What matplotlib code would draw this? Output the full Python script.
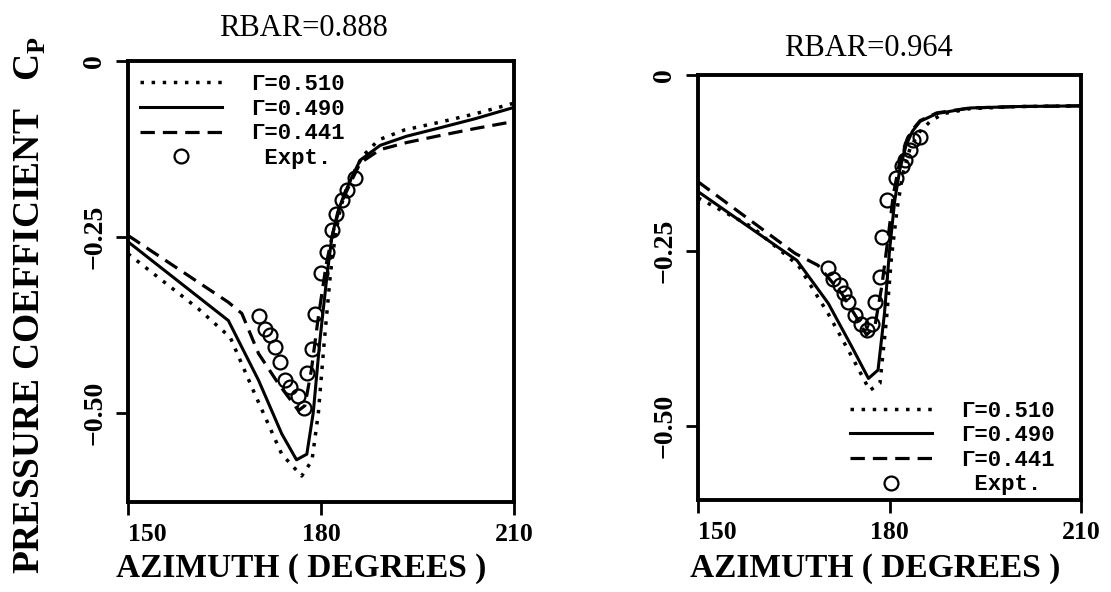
import matplotlib
matplotlib.use("Agg")
import matplotlib.pyplot as plt

OUTPUT_FILE = "out.png"

# left panel, RBAR=0.888
L_DOT_AZ = [150, 160.9, 165.9, 169.7, 173.9, 177.0, 178.6, 179.6, 180.5, 181.5,
            182.2, 183.0, 184.0, 185.3, 186.5, 189, 193, 198.5, 204, 210]
L_DOT_CP = [-0.274, -0.352, -0.393, -0.473, -0.559, -0.590, -0.568, -0.500,
            -0.400, -0.300, -0.250, -0.210, -0.180, -0.155, -0.135, -0.112,
            -0.098, -0.087, -0.075, -0.060]
L_SOL_AZ = [150, 165.6, 170.3, 173.9, 176.2, 177.8, 178.8, 179.8, 181.0, 181.7,
            182.6, 183.6, 184.8, 186.1, 189.2, 193.3, 198.5, 204, 210]
L_SOL_CP = [-0.257, -0.369, -0.454, -0.530, -0.567, -0.559, -0.500, -0.400,
            -0.300, -0.250, -0.215, -0.190, -0.165, -0.141, -0.120, -0.107,
            -0.095, -0.082, -0.066]
L_DSH_AZ = [150, 165.6, 167.7, 170.3, 173.4, 176.5, 177.5, 178.5, 179.5, 180.8,
            181.7, 183, 184.5, 186.1, 189.2, 193.3, 198.5, 204, 210]
L_DSH_CP = [-0.248, -0.343, -0.359, -0.416, -0.459, -0.497, -0.490, -0.440,
            -0.370, -0.290, -0.250, -0.205, -0.175, -0.145, -0.126, -0.116,
            -0.106, -0.096, -0.086]
L_EXP_AZ = [170.3, 171.3, 172.1, 172.9, 173.6, 174.4, 175.2, 176.5, 177.3,
            177.9, 178.6, 179.1, 180.0, 180.9, 181.7, 182.4, 183.2, 184.0, 185.3]
L_EXP_CP = [-0.363, -0.381, -0.390, -0.407, -0.428, -0.454, -0.464, -0.476,
            -0.494, -0.443, -0.409, -0.359, -0.302, -0.272, -0.241, -0.217,
            -0.198, -0.184, -0.167]

# right panel, RBAR=0.964
R_DOT_AZ = [150, 158.4, 165.7, 170.4, 174.1, 176.9, 178.5, 179.5, 180.3, 181.2,
            182.1, 183.2, 184.6, 186.5, 188.5, 192.6, 200, 210]
R_DOT_CP = [-0.175, -0.216, -0.271, -0.340, -0.401, -0.449, -0.439, -0.350,
            -0.260, -0.190, -0.140, -0.105, -0.082, -0.065, -0.055, -0.048,
            -0.045, -0.044]
R_SOL_AZ = [150, 165.5, 170.4, 174.1, 176.7, 178.2, 179.2, 180.0, 180.8, 181.6,
            182.6, 183.6, 184.8, 187.4, 192.6, 200, 210]
R_SOL_CP = [-0.166, -0.264, -0.325, -0.387, -0.432, -0.420, -0.340, -0.250,
            -0.180, -0.135, -0.100, -0.080, -0.066, -0.055, -0.047, -0.045,
            -0.044]
R_DSH_AZ = [150, 165.2, 168.8, 172.5, 175.1, 176.4, 177.7, 178.8, 179.8, 180.6,
            181.5, 182.5, 183.6, 184.8, 187.4, 192.6, 200, 210]
R_DSH_CP = [-0.152, -0.254, -0.271, -0.311, -0.349, -0.370, -0.358, -0.300,
            -0.230, -0.170, -0.128, -0.097, -0.078, -0.065, -0.054, -0.047,
            -0.045, -0.044]
R_EXP_AZ = [170.3, 171.2, 172.2, 172.9, 173.5, 174.6, 175.6, 176.4, 177.2,
            177.8, 178.5, 178.8, 179.6, 181.0, 182.0, 182.4, 183.2, 183.7, 184.8]
R_EXP_CP = [-0.275, -0.290, -0.299, -0.311, -0.323, -0.342, -0.354, -0.363,
            -0.354, -0.323, -0.287, -0.231, -0.178, -0.147, -0.130, -0.121,
            -0.107, -0.092, -0.088]

LABELS = ["\u0393=0.510", "\u0393=0.490", "\u0393=0.441", " Expt."]
TITLES = ["RBAR=0.888", "RBAR=0.964"]
XTICKS = [150, 180, 210]
YTICKS = [0, -0.25, -0.50]
YTICKLABELS = ["0", "\u22120.25", "\u22120.50"]

SERIF = ["Liberation Serif", "DejaVu Serif"]
MONO = ["Liberation Mono", "DejaVu Sans Mono"]

fig = plt.figure(figsize=(11.11, 5.92), dpi=100)
ax_l = fig.add_axes([0.1152, 0.152, 0.3474, 0.745])
ax_r = fig.add_axes([0.6283, 0.1554, 0.3447, 0.718])

# per panel: lower y limit, legend loc/anchor, title pad/x, xlabel x/y
panels = [
    (ax_l, L_DOT_AZ, L_DOT_CP, L_SOL_AZ, L_SOL_CP, L_DSH_AZ, L_DSH_CP,
     L_EXP_AZ, L_EXP_CP, -0.627, "upper left", (0.008, 0.99), 18, 0.455,
     (0.448, -0.15)),
    (ax_r, R_DOT_AZ, R_DOT_CP, R_SOL_AZ, R_SOL_CP, R_DSH_AZ, R_DSH_CP,
     R_EXP_AZ, R_EXP_CP, -0.605, "lower right", (0.955, -0.01), 14, 0.445,
     (0.462, -0.16)),
]

for i, (ax, daz, dcp, saz, scp, haz, hcp, eaz, ecp, ymin, loc, anchor,
        tpad, tx, xl) in enumerate(panels):
    h1, = ax.plot(daz, dcp, color="black", lw=2.5, ls=(0, (1, 2.2)))
    h2, = ax.plot(saz, scp, color="black", lw=2.2, ls="-")
    h3, = ax.plot(haz, hcp, color="black", lw=2.3, ls=(0, (4.5, 2.5)))
    h4, = ax.plot(eaz, ecp, ls="none", marker="o", ms=10, mfc="none",
                  mec="black", mew=1.6)
    ax.set_xlim(150, 210)
    ax.set_ylim(ymin, 0)
    ax.set_xticks(XTICKS)
    ax.set_xticklabels([str(t) for t in XTICKS], fontsize=18.5,
                       fontweight="bold", family=SERIF)
    ax.get_xticklabels()[0].set_ha("left")
    ax.set_yticks(YTICKS)
    ax.set_yticklabels(YTICKLABELS, fontsize=20, fontweight="bold",
                       family=SERIF, rotation=90, va="center")
    ax.tick_params(direction="out", length=9, width=2, pad=6)
    for sp in ax.spines.values():
        sp.set_linewidth(2.8)
    ax.set_title(TITLES[i], fontsize=22, family=SERIF, pad=tpad, x=tx)
    ax.set_xlabel("AZIMUTH ( DEGREES )", fontsize=24, fontweight="bold",
                  family=SERIF)
    ax.xaxis.set_label_coords(*xl)
    ax.xaxis.label.set_va("center")
    ax.legend([h1, h2, h3, h4], LABELS, loc=loc,
              bbox_to_anchor=anchor, frameon=False,
              prop={"family": MONO, "size": 16, "weight": "bold"},
              handlelength=3.7, handletextpad=1.3, labelspacing=0.16,
              borderaxespad=0.0, markerfirst=True)

fig.text(0.027, 0.485, "PRESSURE COEFFICIENT   C$_\\mathregular{P}$",
         rotation=90, ha="center", va="center", fontsize=27,
         fontweight="bold", family=SERIF)

plt.savefig(OUTPUT_FILE, dpi=100)
